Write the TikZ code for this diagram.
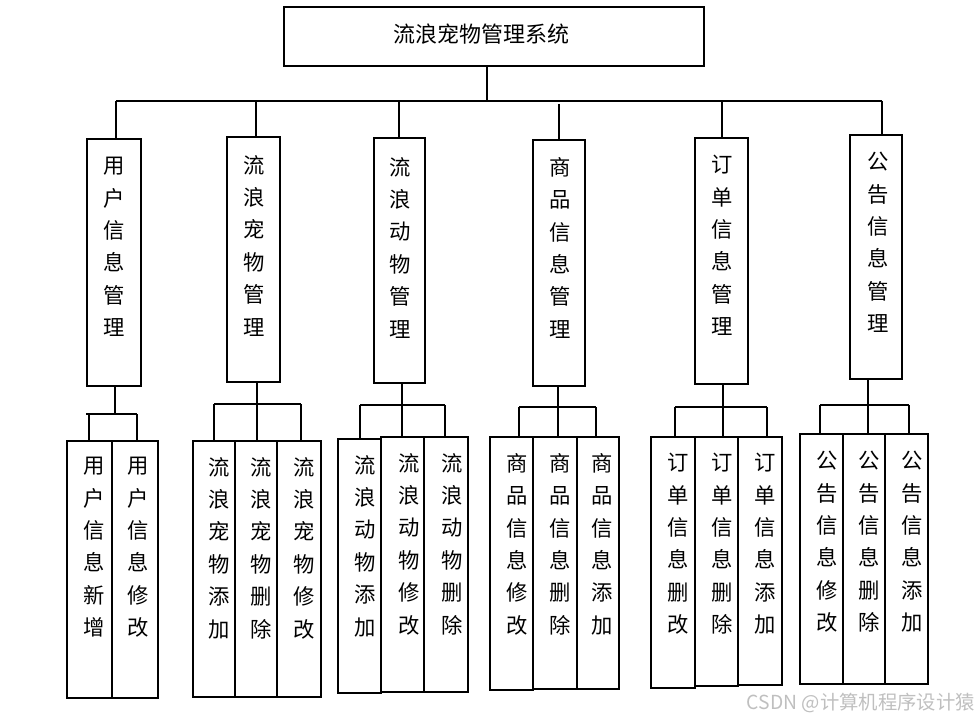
\documentclass[tikz,border=0pt]{standalone}
\usepackage{fontspec}
\newfontfamily\cjk{Noto Sans CJK SC}
\usetikzlibrary{fit}
\begin{document}
\begin{tikzpicture}[x=0.75pt,y=-0.75pt,
  bx/.style={draw, inner sep=0pt, line width=1.6pt},
  vt/.style={font=\cjk\fontsize{16}{24.3}\selectfont, align=center, anchor=north, inner sep=0pt},
  ln/.style={line width=1.6pt}]
\useasboundingbox (0,0) rectangle (978,720);
% top
\node[bx, fit={(284,7) (704,66)}] (top) {};
\node[font=\cjk\fontsize{16.5}{20}\selectfont, inner sep=0pt] (title) at (481,34) {流浪宠物管理系统};
% bus
\coordinate (bus) at (487,101);
\coordinate (busL) at (116,101);
\coordinate (busR) at (882,101);
\draw[ln] (bus |- top.south) -- (bus);
\draw[ln] (busL) -- (busR);
% level 2 boxes
\node[bx, fit={(87,139) (141,386)}] (m1) {};
\node[bx, fit={(227,137) (280,382)}] (m2) {};
\node[bx, fit={(374,138) (425,383)}] (m3) {};
\node[bx, fit={(533,140) (585,386)}] (m4) {};
\node[bx, fit={(695,138) (748,384)}] (m5) {};
\node[bx, fit={(850,135) (902,379)}] (m6) {};
\node[vt] (t1) at (114,157) {用\\户\\信\\息\\管\\理};
\node[vt] (t2) at (254,155) {流\\浪\\宠\\物\\管\\理};
\node[vt] (t3) at (400,157) {流\\浪\\动\\物\\管\\理};
\node[vt] (t4) at (560,157) {商\\品\\信\\息\\管\\理};
\node[vt] (t5) at (722,155) {订\\单\\信\\息\\管\\理};
\node[vt] (t6) at (878,152) {公\\告\\信\\息\\管\\理};
% drops
\coordinate (d1) at (116,101);
\coordinate (d2) at (256,101);
\coordinate (d3) at (399,101);
\coordinate (d4) at (559,104);
\coordinate (d5) at (722,101);
\coordinate (d6) at (882,101);
\draw[ln] (d1) -- (d1 |- m1.north);
\draw[ln] (d2) -- (d2 |- m2.north);
\draw[ln] (d3) -- (d3 |- m3.north);
\draw[ln] (d4) -- (d4 |- m4.north);
\draw[ln] (d5) -- (d5 |- m5.north);
\draw[ln] (d6) -- (d6 |- m6.north);
% ---------- group 1
\node[bx, fit={(67,441) (112,698)}] (s11) {};
\node[bx, fit={(112,441) (158,698)}] (s12) {};
\node[vt] (u11) at (94,457) {用\\户\\信\\息\\新\\增};
\node[vt] (u12) at (138,457) {用\\户\\信\\息\\修\\改};
\coordinate (g1s) at (115,414);
\coordinate (g1a) at (89,414);
\coordinate (g1b) at (137,414);
\draw[ln] (g1s |- m1.south) -- (g1s);
\draw[ln] (86,414) -- (g1b);
\draw[ln] (g1a) -- (g1a |- s11.north);
\draw[ln] (g1b) -- (g1b |- s12.north);
% ---------- group 2
\node[bx, fit={(193,441) (235,697)}] (s21) {};
\node[bx, fit={(235,441) (277,697)}] (s22) {};
\node[bx, fit={(277,441) (321,697)}] (s23) {};
\node[vt] (u21) at (219,457) {流\\浪\\宠\\物\\添\\加};
\node[vt] (u22) at (261,457) {流\\浪\\宠\\物\\删\\除};
\node[vt] (u23) at (304,457) {流\\浪\\宠\\物\\修\\改};
\coordinate (g2s) at (257,404);
\coordinate (g2a) at (214,404);
\coordinate (g2b) at (301,404);
\draw[ln] (g2s |- m2.south) -- (g2s |- s22.north);
\draw[ln] (g2a) -- (g2b);
\draw[ln] (g2a) -- (g2a |- s21.north);
\draw[ln] (g2b) -- (g2b |- s23.north);
% ---------- group 3
\node[bx, fit={(338,439) (381,693)}] (s31) {};
\node[bx, fit={(381,437) (424,692)}] (s32) {};
\node[bx, fit={(424,437) (468,692)}] (s33) {};
\node[vt] (u31) at (365,455) {流\\浪\\动\\物\\添\\加};
\node[vt] (u32) at (409,453) {流\\浪\\动\\物\\修\\改};
\node[vt] (u33) at (452,453) {流\\浪\\动\\物\\删\\除};
\coordinate (g3s) at (402,405);
\coordinate (g3a) at (360,405);
\coordinate (g3b) at (445,405);
\draw[ln] (g3s |- m3.south) -- (g3s |- s32.north);
\draw[ln] (g3a) -- (g3b);
\draw[ln] (g3a) -- (g3a |- s31.north);
\draw[ln] (g3b) -- (g3b |- s33.north);
% ---------- group 4
\node[bx, fit={(490,437) (533,690)}] (s41) {};
\node[bx, fit={(533,437) (577,689)}] (s42) {};
\node[bx, fit={(577,437) (619,689)}] (s43) {};
\node[vt] (u41) at (517,453) {商\\品\\信\\息\\修\\改};
\node[vt] (u42) at (560,453) {商\\品\\信\\息\\删\\除};
\node[vt] (u43) at (602,453) {商\\品\\信\\息\\添\\加};
\coordinate (g4s) at (558,407);
\coordinate (g4a) at (519,407);
\coordinate (g4b) at (596,407);
\draw[ln] (g4s |- m4.south) -- (g4s |- s42.north);
\draw[ln] (g4a) -- (g4b);
\draw[ln] (g4a) -- (g4a |- s41.north);
\draw[ln] (g4b) -- (g4b |- s43.north);
% ---------- group 5
\node[bx, fit={(651,437) (695,688)}] (s51) {};
\node[bx, fit={(695,437) (738,686)}] (s52) {};
\node[bx, fit={(738,437) (782,685)}] (s53) {};
\node[vt] (u51) at (678,453) {订\\单\\信\\息\\删\\改};
\node[vt] (u52) at (722,453) {订\\单\\信\\息\\删\\除};
\node[vt] (u53) at (765,453) {订\\单\\信\\息\\添\\加};
\coordinate (g5s) at (723,407);
\coordinate (g5a) at (675,407);
\coordinate (g5b) at (767,407);
\draw[ln] (g5s |- m5.south) -- (g5s |- s52.north);
\draw[ln] (g5a) -- (g5b);
\draw[ln] (g5a) -- (g5a |- s51.north);
\draw[ln] (g5b) -- (g5b |- s53.north);
% ---------- group 6
\node[bx, fit={(800,434) (843,684)}] (s61) {};
\node[bx, fit={(843,434) (885,684)}] (s62) {};
\node[bx, fit={(885,434) (928,684)}] (s63) {};
\node[vt] (u61) at (827,451) {公\\告\\信\\息\\修\\改};
\node[vt] (u62) at (869,451) {公\\告\\信\\息\\删\\除};
\node[vt] (u63) at (912,451) {公\\告\\信\\息\\添\\加};
\coordinate (g6s) at (868,405);
\coordinate (g6a) at (820,405);
\coordinate (g6b) at (909,405);
\draw[ln] (g6s |- m6.south) -- (g6s |- s62.north);
\draw[ln] (g6a) -- (g6b);
\draw[ln] (g6a) -- (g6a |- s61.north);
\draw[ln] (g6b) -- (g6b |- s63.north);
% watermark
\node[font=\cjk\fontsize{14.5}{16}\selectfont, text=black!25, anchor=east, inner sep=0pt] (wm) at (975,703) {CSDN @计算机程序设计猿};
\end{tikzpicture}
\end{document}
